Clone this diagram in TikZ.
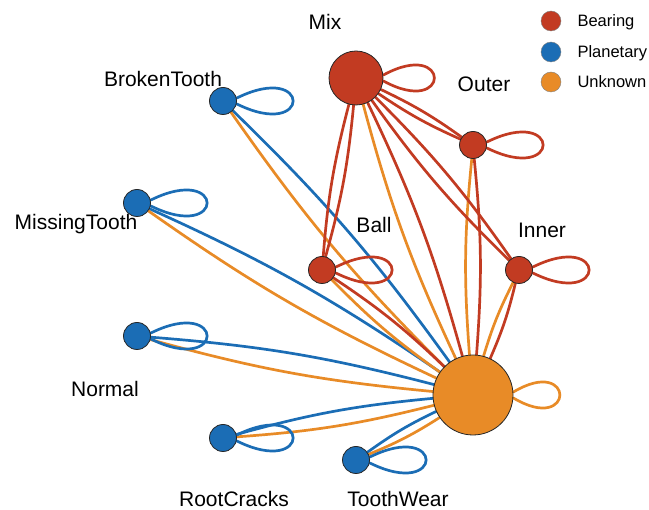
\documentclass[tikz,border=0pt]{standalone}
\usepackage{fontspec}
\setmainfont{Liberation Sans}
\definecolor{cR}{HTML}{C23B22}
\definecolor{cB}{HTML}{1B6DB5}
\definecolor{cO}{HTML}{E88B27}
\pgfdeclarelayer{bg}
\pgfsetlayers{bg,main}
\newcommand\selfloop[3][75]{\draw[#2] ([yshift=3pt]#3.east) .. controls +(#1,37) and +(#1,-37) .. ([yshift=-3pt]#3.east);}
\begin{document}
\begin{tikzpicture}[x=1pt,y=1pt,
  vtx/.style={circle,draw=black!85,line width=0.8pt,inner sep=0pt,minimum size=27pt},
  edge/.style={line width=2.7pt,line cap=round},
  eR/.style={edge,draw=cR},
  eB/.style={edge,draw=cB},
  eO/.style={edge,draw=cO},
  lab/.style={font=\fontsize{21}{21}\selectfont,anchor=base},
  leg/.style={font=\fontsize{16.5}{16.5}\selectfont,anchor=base west},
  legdot/.style={circle,draw=black!50,line width=0.4pt,inner sep=0pt,minimum size=20pt}]
\useasboundingbox (0,0) rectangle (649,-510);
% nodes
\node[vtx,fill=cR,minimum size=54pt] (mix) at (356,-78) {};
\node[vtx,fill=cR] (outer) at (473,-145) {};
\node[vtx,fill=cR] (ball) at (322,-270) {};
\node[vtx,fill=cR] (inner) at (519,-270) {};
\node[vtx,fill=cB] (bt) at (223,-101) {};
\node[vtx,fill=cB] (mt) at (137,-203) {};
\node[vtx,fill=cB] (no) at (137,-336) {};
\node[vtx,fill=cB] (rc) at (223,-438) {};
\node[vtx,fill=cB] (tw) at (356,-460) {};
\node[vtx,fill=cO,minimum size=80pt] (unk) at (473,-395) {};
% edges
\begin{pgfonlayer}{bg}
\foreach \n in {bt,mt,no,rc,tw}{
  \draw[eB] (\n) to[bend left=5] (unk);
  \draw[eO] (\n) to[bend right=5] (unk);
}
\foreach \n in {mix,outer,ball,inner}{
  \draw[eR] (\n) to[bend left=5] (unk);
  \draw[eO] (\n) to[bend right=5] (unk);
}
\foreach \n in {outer,ball,inner}{
  \draw[eR] (mix) to[bend left=5] (\n);
  \draw[eR] (mix) to[bend right=5] (\n);
}
\selfloop[68]{eR}{mix}
\selfloop{eR}{outer}
\selfloop{eR}{ball}
\selfloop{eR}{inner}
\selfloop{eB}{bt}
\selfloop{eB}{mt}
\selfloop{eB}{no}
\selfloop{eB}{rc}
\selfloop{eB}{tw}
\selfloop[62]{eO}{unk}
\end{pgfonlayer}
% labels
\node[lab] (lmix) at (325,-30) {Mix};
\node[lab] (louter) at (484,-92) {Outer};
\node[lab] (lbt) at (163,-87) {BrokenTooth};
\node[lab] (lmt) at (76,-230) {MissingTooth};
\node[lab] (lball) at (374,-233) {Ball};
\node[lab] (linner) at (542,-238) {Inner};
\node[lab] (lno) at (105,-397) {Normal};
\node[lab] (lrc) at (234,-507) {RootCracks};
\node[lab] (ltw) at (398,-507) {ToothWear};
% legend
\node[legdot,fill=cR] (d1) at (551,-21) {};
\node[legdot,fill=cB] (d2) at (551,-52) {};
\node[legdot,fill=cO] (d3) at (551,-82) {};
\node[leg] (t1) at (574,-27) {Bearing};
\node[leg] (t2) at (574,-58) {Planetary};
\node[leg] (t3) at (574,-88) {Unknown};
\end{tikzpicture}
\end{document}
